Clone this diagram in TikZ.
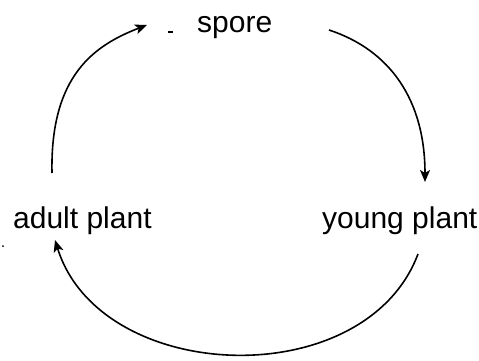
\documentclass[tikz,border=0pt]{standalone}
\usepackage{fontspec}
\setmainfont{Liberation Sans}
\usetikzlibrary{arrows.meta}
\begin{document}
\begin{tikzpicture}[x=1pt,y=-1pt,
  lbl/.style={inner sep=0pt,anchor=base west,font=\fontsize{30}{34}\selectfont},
  cyc/.style={line width=1.6pt,-{Stealth[length=12pt,width=10pt,inset=3pt]}}]
\useasboundingbox (0,0) rectangle (479,361);
\node[lbl] (spore) at (197,33) {spore};
\node[lbl] (adult) at (13,228) {adult plant};
\node[lbl] (young) at (322,228) {young plant};
\coordinate (a1) at (52,173);
\coordinate (a2) at (147,25);
\coordinate (b1) at (329,30);
\coordinate (b2) at (425,182);
\coordinate (c1) at (418,254);
\coordinate (c2) at (55,240);
\draw[cyc] (a1) .. controls (50,75) and (95,45) .. (a2);
\draw[cyc] (b1) .. controls (390,50) and (425,100) .. (b2);
\draw[cyc] (c1) .. controls (365,395) and (100,385) .. (c2);
\fill (168,31.5) rectangle (173,33);
\fill (3,246) circle (1pt);
\end{tikzpicture}
\end{document}
